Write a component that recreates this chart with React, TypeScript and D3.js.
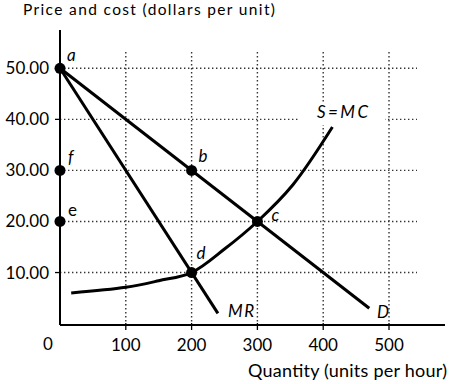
import React from 'react';
import * as d3 from 'd3';

const xTicks = [100, 200, 300, 400, 500];
const yTicks = [10, 20, 30, 40, 50];
const yTickLabels = ['10.00', '20.00', '30.00', '40.00', '50.00'];

const demand: [number, number][] = [[0, 50], [470, 3]];
const marginalRevenue: [number, number][] = [[0, 50], [240, 2]];
const marginalCost: [number, number][] = [
  [17, 6], [100, 7.1], [150, 8.4], [200, 10], [250, 14.6], [300, 20], [354, 27.2], [414, 38.5],
];

const points = [
  { name: 'a', q: 0, p: 50 },
  { name: 'b', q: 200, p: 30 },
  { name: 'c', q: 300, p: 20 },
  { name: 'd', q: 200, p: 10 },
  { name: 'e', q: 0, p: 20 },
  { name: 'f', q: 0, p: 30 },
];

const font = 'Lato, "Open Sans", sans-serif';

const App: React.FC = () => {
  const [w, h] = [451, 384];
  const x = d3.scaleLinear().domain([0, 500]).range([60, 389]);
  const y = d3.scaleLinear().domain([0, 50]).range([323.6, 68.3]);
  const axisY = 325;
  const line = d3.line<[number, number]>().x(d => x(d[0])).y(d => y(d[1]));
  const curve = d3.line<[number, number]>().x(d => x(d[0])).y(d => y(d[1])).curve(d3.curveCatmullRom);
  const grid = { stroke: '#333', strokeWidth: 1.4, strokeDasharray: '1.4,2.6' };

  // label offsets relative to points
  const labelOff: Record<string, [number, number, boolean]> = {
    a: [7, -7, true], b: [7, -8, true], c: [14, 0, true], d: [5, -14, true], e: [8, -5, false], f: [8, -7, true],
  };

  return (
    <svg width={w} height={h} style={{ position: 'absolute', left: 0, top: 0 }} fontFamily={font}>
      <rect width={w} height={h} fill="#fff" />
      {yTicks.map(t => (
        <line key={'gy' + t} x1={x(0)} x2={417} y1={y(t)} y2={y(t)} {...grid} />
      ))}
      {xTicks.map(t => (
        <line key={'gx' + t} x1={x(t)} x2={x(t)} y1={52} y2={axisY} {...grid} />
      ))}
      <rect x={300} y={104} width={85} height={21} fill="#fff" />

      <line x1={x(0)} x2={445} y1={axisY} y2={axisY} stroke="#000" strokeWidth={2} />
      <line x1={x(0)} x2={x(0)} y1={30} y2={axisY} stroke="#000" strokeWidth={2} />
      {xTicks.map(t => (
        <line key={'tx' + t} x1={x(t)} x2={x(t)} y1={axisY - 2} y2={axisY + 5} stroke="#000" strokeWidth={1.3} />
      ))}
      {yTicks.map(t => (
        <line key={'ty' + t} x1={x(0) - 5} x2={x(0)} y1={y(t)} y2={y(t)} stroke="#000" strokeWidth={1.3} />
      ))}

      {yTicks.map((t, i) => (
        <text key={'ly' + t} x={49} y={y(t) + 6} textAnchor="end" fontSize={17}>{yTickLabels[i]}</text>
      ))}
      {xTicks.map(t => (
        <text key={'lx' + t} x={x(t)} y={351} textAnchor="middle" fontSize={17}>{t}</text>
      ))}
      <text x={48} y={350} textAnchor="middle" fontSize={17}>0</text>

      <text x={23} y={15} fontSize={15.5} textLength={252} lengthAdjust="spacing">Price and cost (dollars per unit)</text>
      <text x={248} y={377} fontSize={18} textLength={199} lengthAdjust="spacing">Quantity (units per hour)</text>

      <path d={line(demand) || ''} fill="none" stroke="#000" strokeWidth={3} />
      <path d={line(marginalRevenue) || ''} fill="none" stroke="#000" strokeWidth={3} />
      <path d={curve(marginalCost) || ''} fill="none" stroke="#000" strokeWidth={3} />

      {points.map(pt => (
        <circle key={pt.name} cx={x(pt.q)} cy={y(pt.p)} r={5.5} fill="#000" />
      ))}
      {points.map(pt => {
        const [dx, dy, it] = labelOff[pt.name];
        return (
          <text key={'n' + pt.name} x={x(pt.q) + dx} y={y(pt.p) + dy} fontSize={17} fontStyle={it ? 'italic' : 'normal'}>{pt.name}</text>
        );
      })}

      <text x={317} y={118} fontSize={17} fontStyle="italic" textLength={51} lengthAdjust="spacing">S=MC</text>
      <text x={228} y={317} fontSize={17} fontStyle="italic" letterSpacing={1.5}>MR</text>
      <text x={377} y={318} fontSize={17} fontStyle="italic">D</text>
    </svg>
  );
};

export default App;
